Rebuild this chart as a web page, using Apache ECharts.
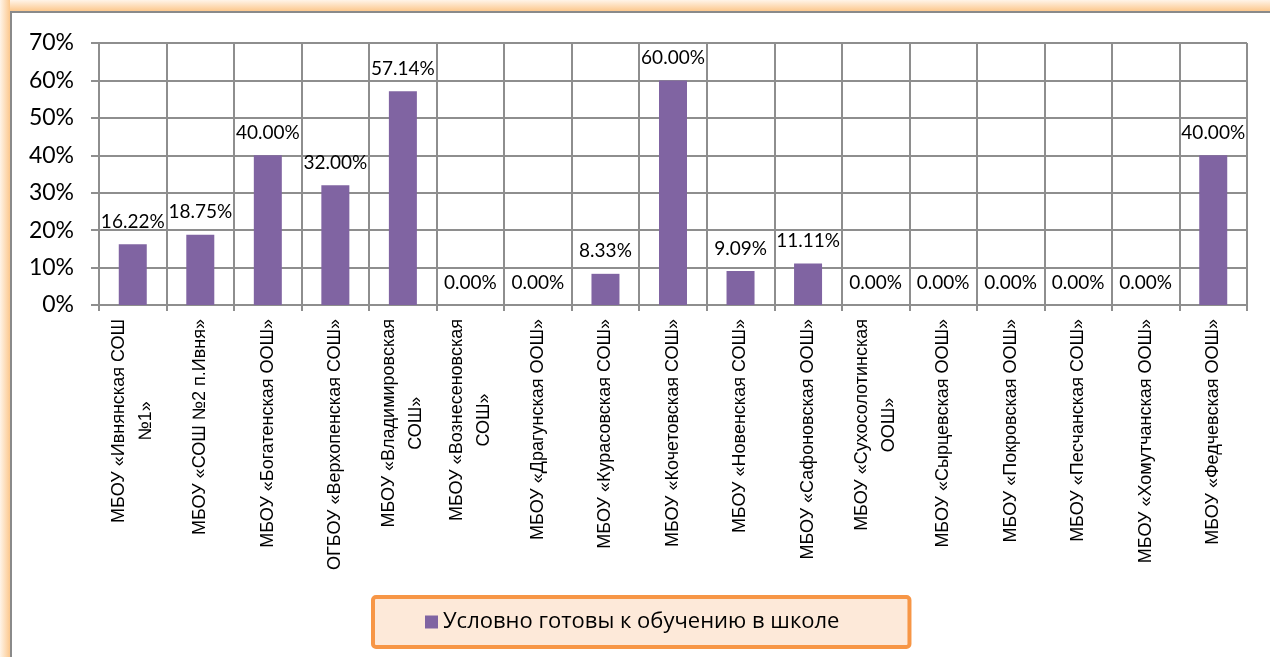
<!DOCTYPE html>
<html>
<head>
<meta charset="utf-8">
<script src="https://cdn.jsdelivr.net/npm/echarts@6/dist/echarts.min.js"></script>
<style>
  html, body { margin: 0; padding: 0; background: #ffffff; }
  #glowTop {
    position: absolute; left: 0; top: 0; width: 1270px; height: 11px;
    background: linear-gradient(to bottom, #fff4e8, #fcc88e);
  }
  #glowLeft {
    position: absolute; left: 0; top: 0; width: 10px; height: 657px;
    background: linear-gradient(to right, #fff4e8, #fcc88e);
  }
  #main {
    position: absolute; left: 10px; top: 11px; width: 1260px; height: 646px;
    border-left: 2px solid #8a8a8a; border-top: 2px solid #8a8a8a;
    background: #ffffff;
  }
</style>
</head>
<body>
<div id="glowTop"></div>
<div id="glowLeft"></div>
<div id="main"></div>
<script>
  // Школы (переносы строк как в исходной диаграмме)
  const schools = [
    "МБОУ «Ивнянская СОШ\n№1»",
    "МБОУ «СОШ №2 п.Ивня»",
    "МБОУ «Богатенская ООШ»",
    "ОГБОУ «Верхопенская СОШ»",
    "МБОУ «Владимировская\nСОШ»",
    "МБОУ «Вознесеновская\nСОШ»",
    "МБОУ «Драгунская ООШ»",
    "МБОУ «Курасовская СОШ»",
    "МБОУ «Кочетовская СОШ»",
    "МБОУ «Новенская СОШ»",
    "МБОУ «Сафоновская ООШ»",
    "МБОУ «Сухосолотинская\nООШ»",
    "МБОУ «Сырцевская ООШ»",
    "МБОУ «Покровская ООШ»",
    "МБОУ «Песчанская СОШ»",
    "МБОУ «Хомутчанская ООШ»",
    "МБОУ «Федчевская ООШ»",
  ];

  // Условно готовы к обучению в школе, %
  const readyValues = [
    16.22, 18.75, 40.0, 32.0, 57.14, 0.0, 0.0, 8.33, 60.0,
    9.09, 11.11, 0.0, 0.0, 0.0, 0.0, 0.0, 40.0,
  ];

  const seriesName = "Условно готовы к обучению в школе";
  const yTicks = [0, 10, 20, 30, 40, 50, 60, 70];

  const gridColor = "#8e8e8e";

  var chartDom = document.getElementById("main");
  var myChart = echarts.init(chartDom);
  var option;
  option = {
    animation: false,
    backgroundColor: "#ffffff",
    grid: {
      left: 87,
      top: 30,
      width: 1148,
      height: 262,
      containLabel: false,
    },
    legend: {
      data: [seriesName],
      left: 361,
      top: 584,
      icon: "rect",
      itemWidth: 13,
      itemHeight: 13,
      padding: [14, 70, 14, 52],
      backgroundColor: "#fde9d9",
      borderColor: "#f79646",
      borderWidth: 4,
      borderRadius: 3,
      textStyle: {
        fontFamily: "Open Sans",
        fontSize: 22,
        color: "#000000",
      },
    },
    xAxis: {
      type: "category",
      data: schools,
      axisLine: { show: true, lineStyle: { color: gridColor, width: 2 } },
      axisTick: { show: true, length: 6, lineStyle: { color: gridColor, width: 2 } },
      splitLine: { show: true, lineStyle: { color: gridColor, width: 2 } },
      axisLabel: {
        interval: 0,
        rotate: 90,
        margin: 14,
        color: "#000000",
        fontFamily: "Liberation Sans",
        fontSize: 18,
        lineHeight: 27,
        formatter: (val) =>
          val
            .split("\n")
            .map((line) => "{c|" + line + "}")
            .join("\n"),
        rich: {
          c: {
            align: "center",
            fontFamily: "Liberation Sans",
            fontSize: 18,
            lineHeight: 27,
            color: "#000000",
          },
        },
      },
    },
    yAxis: {
      type: "value",
      min: yTicks[0],
      max: yTicks[yTicks.length - 1],
      interval: 10,
      axisLine: { show: true, lineStyle: { color: gridColor, width: 2 } },
      axisTick: { show: true, length: 8, lineStyle: { color: gridColor, width: 2 } },
      splitLine: { show: true, lineStyle: { color: gridColor, width: 2 } },
      axisLabel: {
        margin: 25,
        color: "#000000",
        fontFamily: "Lato",
        fontSize: 23,
        formatter: "{value}%",
      },
    },
    series: [
      {
        name: seriesName,
        type: "bar",
        data: readyValues,
        barWidth: 28,
        itemStyle: { color: "#8064a2" },
        label: {
          show: true,
          position: "top",
          distance: 13,
          color: "#000000",
          fontFamily: "Lato",
          fontSize: 19,
          formatter: (p) => p.value.toFixed(2) + "%",
        },
      },
    ],
  };

  option && myChart.setOption(option);
</script>
</body>
</html>
